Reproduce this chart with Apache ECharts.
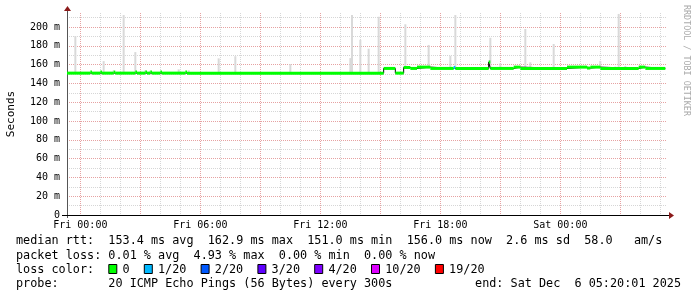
<!DOCTYPE html>
<html><head><meta charset="utf-8">
<script src="https://cdn.jsdelivr.net/npm/echarts@6/dist/echarts.min.js"></script>
<style>html,body{margin:0;padding:0;background:#fff;}#c{width:697px;height:297px;}</style>
</head><body><div id="c"></div>
<script>
// ---------- DATA ----------
// 5-minute sample slots (x categories) from Thu 23:20 to Sat 05:20
const dayNames = ['Thu', 'Fri', 'Sat'];
const slotStartMinutes = 23 * 60 + 20;
const slotCount = 361;
// labelled x ticks
const xTickLabels = ['Fri 00:00', 'Fri 06:00', 'Fri 12:00', 'Fri 18:00', 'Sat 00:00'];
// labelled y ticks (ms)
const yTickValues = [0, 20, 40, 60, 80, 100, 120, 140, 160, 180, 200];

// median rtt (ms): runs of constant value starting at the given slot
const medianRunStart = ['Thu 23:20', 'Fri 00:30', 'Fri 00:35', 'Fri 01:00', 'Fri 01:05', 'Fri 01:40', 'Fri 01:45',
  'Fri 02:45', 'Fri 02:50', 'Fri 03:15', 'Fri 03:20', 'Fri 03:30', 'Fri 03:35', 'Fri 04:00', 'Fri 04:05',
  'Fri 05:15', 'Fri 05:20', 'Fri 15:10', 'Fri 15:45', 'Fri 16:10', 'Fri 16:30', 'Fri 16:50', 'Fri 17:30',
  'Fri 18:40', 'Fri 18:45', 'Fri 20:25', 'Fri 20:30', 'Fri 21:40', 'Fri 22:00', 'Sat 00:20', 'Sat 01:20',
  'Sat 01:30', 'Sat 02:00', 'Sat 03:55', 'Sat 04:15'];
const medianRunValue = [151.0, 152.1, 151.0, 152.1, 151.0, 152.1, 151.0,
  152.1, 151.0, 152.1, 151.0, 152.1, 151.0, 152.1, 151.0,
  152.1, 151.0, 156.0, 151.0, 157.0, 156.0, 157.4, 156.0,
  157.0, 156.0, 162.9, 156.0, 157.4, 156.0, 157.4, 156.4,
  157.4, 156.0, 157.4, 156.0];
// lost pings out of 20 for each run
const medianRunLoss = [0, 0, 0, 0, 0, 0, 0,
  0, 0, 0, 0, 0, 0, 0, 0,
  0, 0, 0, 0, 0, 0, 0, 0,
  1, 0, 0, 0, 0, 0, 0, 0,
  0, 0, 0, 0];
const medianEnd = 'Sat 05:15';

// smoke (max ping rtt, ms) where it rises visibly above the median
const smokeTimes = ['Thu 23:45', 'Fri 01:10', 'Fri 01:40', 'Fri 02:10', 'Fri 02:45', 'Fri 03:15', 'Fri 03:30',
  'Fri 04:55', 'Fri 05:25', 'Fri 06:55', 'Fri 07:45', 'Fri 10:30', 'Fri 13:30', 'Fri 13:35', 'Fri 14:00',
  'Fri 14:25', 'Fri 14:55', 'Fri 16:15', 'Fri 17:25', 'Fri 18:00', 'Fri 18:30', 'Fri 18:45', 'Fri 20:30',
  'Fri 21:00', 'Fri 22:15', 'Fri 22:30', 'Fri 23:40', 'Sat 02:00', 'Sat 02:45', 'Sat 02:55', 'Sat 03:15'];
const smokeTops = [190.4, 163.8, 154.0, 212.8, 173.4, 154.0, 153.6,
  155.0, 154.0, 166.7, 169.0, 160.6, 167.0, 212.8, 186.5,
  177.0, 211.0, 203.0, 181.0, 156.5, 169.5, 212.8, 188.6,
  161.5, 198.0, 162.5, 182.0, 164.0, 158.0, 214.0, 158.7];

// loss colours
const lossLabels = ['0', '1/20', '2/20', '3/20', '4/20', '10/20', '19/20'];
const lossThresholds = [0, 1, 2, 3, 4, 10, 19];
const lossColors = ['#00ff00', '#00b8ff', '#0059ff', '#5e00ff', '#7e00ff', '#dd00ff', '#ff0000'];

// legend statistics
const rttStats = ['153.4 ms avg', '162.9 ms max', '151.0 ms min', '156.0 ms now', '2.6 ms sd', '58.0   am/s'];
const lossStats = ['0.01 % avg', '4.93 % max', '0.00 % min', '0.00 % now'];
const probeText = '20 ICMP Echo Pings (56 Bytes) every 300s';
const endText = 'end: Sat Dec  6 05:20:01 2025';

// ---------- BUILD ----------
const categories = [];
for (let k = 0; k < slotCount; k++) {
  const tot = slotStartMinutes + 5 * k;
  const d = Math.floor(tot / 1440), mm = tot % 1440;
  categories.push(dayNames[d] + ' ' + String(Math.floor(mm / 60)).padStart(2, '0') + ':' + String(mm % 60).padStart(2, '0'));
}
const idx = t => categories.indexOf(t);
const runStartIdx = medianRunStart.map(idx);
const endIdx = idx(medianEnd);
function medianAt(i) {
  let v = medianRunValue[0];
  for (let r = 0; r < runStartIdx.length; r++) if (runStartIdx[r] <= i) v = medianRunValue[r];
  return v;
}
function lossColor(n) {
  let c = lossColors[0];
  for (let k = 0; k < lossThresholds.length; k++) if (n >= lossThresholds[k]) c = lossColors[k];
  return c;
}
const runData = runStartIdx.map((s, r) => [s, r + 1 < runStartIdx.length ? runStartIdx[r + 1] : endIdx, medianRunValue[r], medianRunLoss[r]]);
const stepData = runStartIdx.map((s, r) => [s, medianRunValue[r]]);
stepData.push([endIdx, medianRunValue[medianRunValue.length - 1]]);
const smokeData = smokeTimes.map((t, k) => [idx(t), smokeTops[k], medianAt(idx(t))]);

const MONO = 'DejaVu Sans Mono';
const G = {left: 67, top: 13, width: 600, height: 202};
const CW = 7.1, FS = 11.8, LX = 16;
const MINOR = '#d6d6d6', MAJOR = '#e6a2a2';

const graphics = [];
// axis arrows and axis extensions
graphics.push({type: 'line', shape: {x1: G.left + 0.5, y1: G.top, x2: G.left + 0.5, y2: G.top - 2}, style: {stroke: '#555', lineWidth: 1}});
graphics.push({type: 'line', shape: {x1: G.left + 0.5, y1: G.top + G.height, x2: G.left + 0.5, y2: G.top + G.height + 3}, style: {stroke: '#555', lineWidth: 1}});
graphics.push({type: 'line', shape: {x1: G.left - 5, y1: G.top + G.height + 0.5, x2: G.left, y2: G.top + G.height + 0.5}, style: {stroke: '#000', lineWidth: 1}});
graphics.push({type: 'polygon', shape: {points: [[G.left - 3, G.top - 2], [G.left + 4, G.top - 2], [G.left + 0.5, G.top - 7]]}, style: {fill: '#8b1a1a'}});
graphics.push({type: 'line', shape: {x1: G.left + G.width, y1: G.top + G.height + 0.5, x2: G.left + G.width + 2, y2: G.top + G.height + 0.5}, style: {stroke: '#000', lineWidth: 1}});
graphics.push({type: 'polygon', shape: {points: [[G.left + G.width + 2, G.top + G.height - 3], [G.left + G.width + 2, G.top + G.height + 4], [G.left + G.width + 7, G.top + G.height + 0.5]]}, style: {fill: '#8b1a1a'}});
// watermark
graphics.push({type: 'text', x: 686, y: 5, rotation: -Math.PI / 2,
  style: {text: 'RRDTOOL / TOBI OETIKER', font: '8.4px "' + MONO + '"', fill: '#aaaaaa', align: 'left', verticalAlign: 'middle'}});
function txt(col, y, s) {
  graphics.push({type: 'text', x: LX + col * CW, y: y, style: {text: s, font: FS + 'px "' + MONO + '"', fill: '#000', align: 'left', verticalAlign: 'middle'}});
}
// line 1
txt(0, 241, 'median rtt:  ' + rttStats.join('  '));
// line 2
txt(0, 256, 'packet loss: ' + lossStats.join('  '));
// line 3
txt(0, 269.5, 'loss color:');
let col = 13;
lossLabels.forEach((lab, k) => {
  graphics.push({type: 'rect', shape: {x: LX + col * CW + 0.5, y: 264.5, width: 8, height: 9}, style: {fill: lossColors[k], stroke: '#000', lineWidth: 1}});
  txt(col + 2, 269.5, lab);
  col += 2 + lab.length + 2;
});
// line 4
txt(0, 283.5, 'probe:       ' + probeText);
graphics.push({type: 'text', x: 681, y: 283.5, style: {text: endText, font: FS + 'px "' + MONO + '"', fill: '#000', align: 'right', verticalAlign: 'middle'}});

const chart = echarts.init(document.getElementById('c'), null, {renderer: 'canvas', width: 697, height: 297});
chart.setOption({
  animation: false,
  backgroundColor: '#fff',
  grid: {left: G.left, top: G.top, width: G.width, height: G.height, containLabel: false, outerBoundsMode: 'none'},
  xAxis: {
    type: 'category', data: categories, boundaryGap: false,
    axisLine: {show: true, lineStyle: {color: '#000', width: 1}},
    axisTick: {show: false},
    axisLabel: {interval: (i, v) => xTickLabels.indexOf(v) >= 0, fontFamily: MONO, fontSize: 10, color: '#000', margin: 5},
    splitLine: {show: true, interval: (i, v) => v.endsWith(':00'), lineStyle: {color: [MAJOR, MINOR, MINOR], type: [1, 1], width: 1}}
  },
  yAxis: {
    type: 'value', min: 0, max: 215, interval: 10,
    axisLine: {show: true, lineStyle: {color: '#555', width: 1}},
    axisTick: {show: false},
    axisLabel: {showMaxLabel: false, fontFamily: MONO, fontSize: 10, color: '#000', margin: 7,
      formatter: v => yTickValues.indexOf(v) < 0 ? '' : (v === 0 ? '0' : v + ' m')},
    splitLine: {show: true, showMinLine: false, showMaxLine: false, lineStyle: {color: [MINOR, MAJOR], type: [1, 1], width: 1}},
    name: 'Seconds', nameLocation: 'middle', nameRotate: 90, nameGap: 50,
    nameTextStyle: {fontFamily: MONO, fontSize: 11, color: '#000'}
  },
  series: [
    {type: 'custom', data: smokeData, encode: {x: 0, y: [1, 2]}, z: 2,
      renderItem: (p, api) => {
        const a = api.coord([api.value(0), api.value(1)]);
        const b = api.coord([api.value(0), api.value(2)]);
        return {type: 'rect', shape: {x: a[0] - 1, y: a[1], width: 2, height: b[1] - a[1]}, style: {fill: '#d9d9d9'}};
      }},
    {type: 'line', data: stepData, step: 'end', symbol: 'none', z: 3, lineStyle: {color: '#000', width: 1}},
    {type: 'custom', data: runData, encode: {x: [0, 1], y: 2}, z: 4,
      renderItem: (p, api) => {
        const a = api.coord([api.value(0), api.value(2)]);
        const b = api.coord([api.value(1), api.value(2)]);
        return {type: 'rect', shape: {x: a[0], y: a[1] - 1.5, width: b[0] - a[0], height: 3}, style: {fill: lossColor(api.value(3))}};
      }}
  ],
  graphic: graphics
});
</script>
</body></html>
